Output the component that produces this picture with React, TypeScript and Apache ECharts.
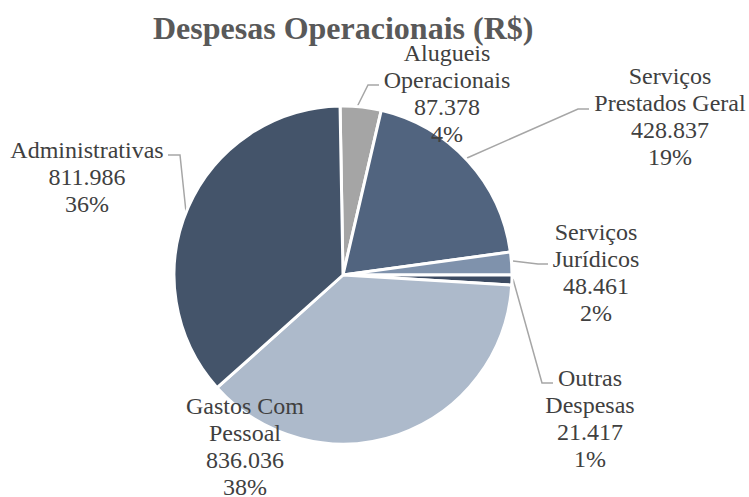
import React, { useEffect, useRef } from "react";
import * as echarts from "echarts";

const categories = [
  "Alugueis\nOperacionais",
  "Serviços\nPrestados Geral",
  "Serviços\nJurídicos",
  "Outras\nDespesas",
  "Gastos Com\nPessoal",
  "Administrativas",
];
const values = [87378, 428837, 48461, 21417, 836036, 811986];
const percents = [4, 19, 2, 1, 38, 36];
const colors = ["#a5a5a5", "#51647f", "#7f92ac", "#3c4b62", "#adbacb", "#44546a"];

// label block centers (layout only)
const labelCenters: [number, number][] = [
  [447, 93],
  [670, 116],
  [596, 272],
  [590, 418],
  [245, 446],
  [87, 177],
];
// leader line routes (layout only)
const leaderLines: (number[][] | null)[] = [
  [[357, 107], [368, 85], [379, 85]],
  [[467, 158], [578, 109], [589, 109]],
  [[513, 261], [538, 264], [548, 264]],
  [[513, 279], [542, 383], [553, 383]],
  null,
  [[186, 212], [180, 155], [168, 155]],
];

const SERIF = "Liberation Serif";

function fmt(v: number): string {
  return v.toString().replace(/\B(?=(\d{3})+(?!\d))/g, ".");
}

export default function App() {
  const ref = useRef<HTMLDivElement>(null);
  useEffect(() => {
    if (!ref.current) return;
    const chart = echarts.init(ref.current, null, { renderer: "svg" });
    chart.setOption({
      animation: false,
      backgroundColor: "#ffffff",
      textStyle: { fontFamily: SERIF },
      title: {
        text: "Despesas Operacionais (R$)",
        left: 148,
        top: 7,
        textStyle: {
          fontFamily: SERIF,
          fontWeight: "bold",
          fontSize: 32,
          color: "#595959",
        },
      },
      series: [
        {
          type: "pie",
          center: [343, 275],
          radius: 169,
          startAngle: 91,
          clockwise: true,
          avoidLabelOverlap: false,
          itemStyle: { borderColor: "#ffffff", borderWidth: 3 },
          label: {
            show: true,
            fontFamily: SERIF,
            fontSize: 24,
            lineHeight: 27,
            color: "#404040",
            align: "center",
            formatter: (p: any) => {
              const i = p.dataIndex;
              return [
                ...categories[i].split("\n"),
                fmt(values[i]),
                `${percents[i]}%`,
              ].join("\n");
            },
          },
          labelLine: {
            show: true,
            lineStyle: { color: "#a6a6a6", width: 1.5 },
          },
          labelLayout: (params: any) => {
            const i = params.dataIndex;
            const p = labelCenters[i];
            const o: any = {
              x: p[0],
              y: p[1],
              align: "center",
              verticalAlign: "middle",
            };
            if (leaderLines[i]) o.labelLinePoints = leaderLines[i];
            return o;
          },
          data: categories.map((name, i) => ({
            name,
            value: values[i],
            itemStyle: { color: colors[i] },
            labelLine: { show: leaderLines[i] !== null },
          })),
        },
      ],
    });
    return () => chart.dispose();
  }, []);
  return (
    <div
      ref={ref}
      style={{ position: "absolute", left: 0, top: 0, width: 749, height: 497 }}
    />
  );
}
